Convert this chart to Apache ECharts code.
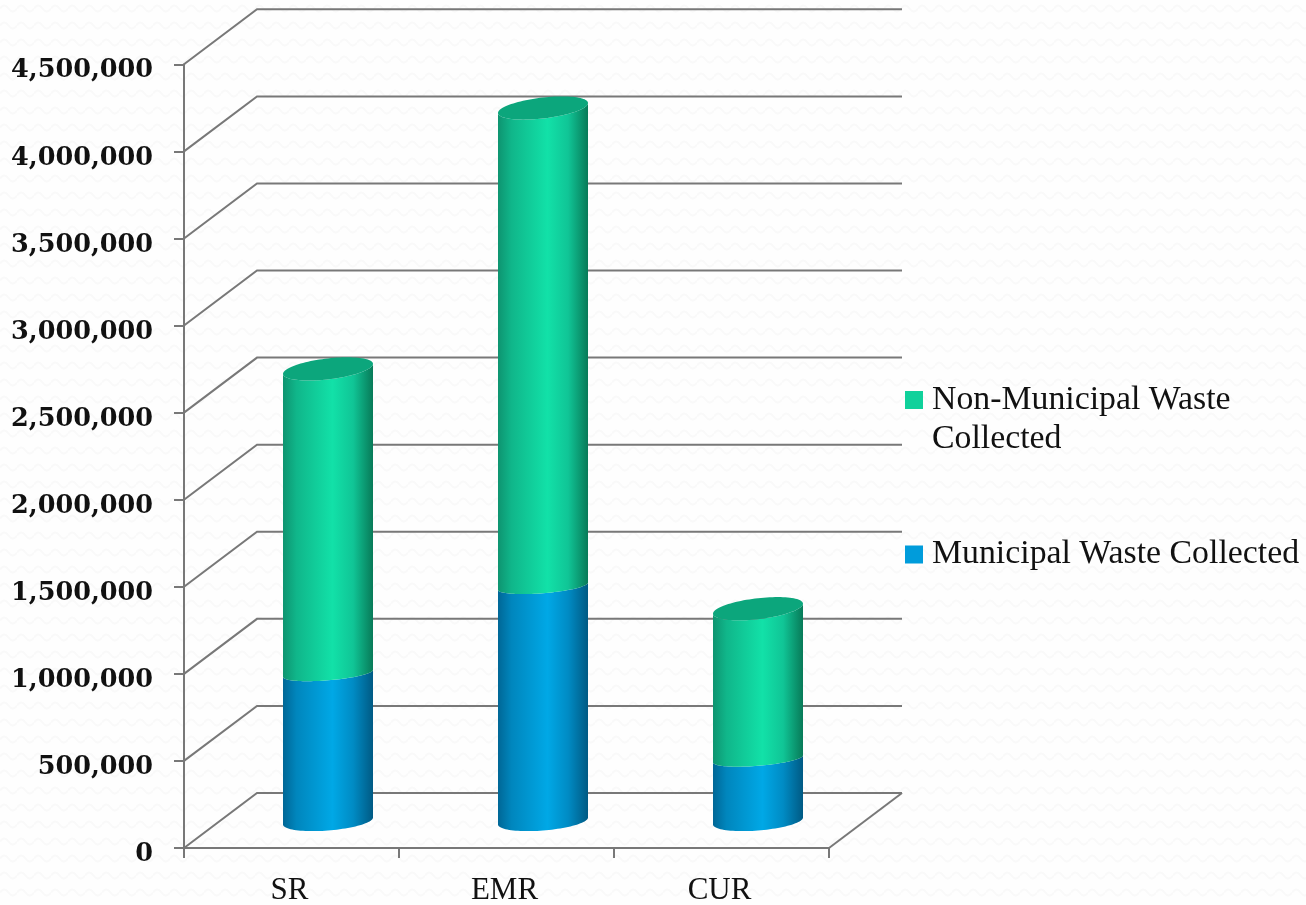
<!DOCTYPE html>
<html>
<head>
<meta charset="utf-8">
<style>html,body{margin:0;padding:0;background:#fff}#chart{width:1306px;height:905px}</style>
<script src="https://cdn.jsdelivr.net/npm/echarts@6/dist/echarts.min.js"></script>
</head>
<body>
<div id="chart"></div>
<script>
// Waste collected per region, tonnes
const categories = ['SR', 'EMR', 'CUR'];
const municipal = [848000, 1348000, 357000];
const nonMunicipal = [1748000, 2746000, 862000];
const yTicks = [0, 500000, 1000000, 1500000, 2000000, 2500000, 3000000, 3500000, 4000000, 4500000];
const municipalName = 'Municipal Waste Collected';
const nonMunicipalName = 'Non-Municipal Waste Collected';

// Depth of the pseudo-3D chart box, in pixels
const DEPTH_X = 73;
const DEPTH_Y = -55;
const CYL_HALF_WIDTH = 45;
const CYL_FLOOR_LIFT = 27;
const LINE = '#787878';

// Cross-section shapes: perspective makes the rim flatter at the seam than at the ends
const FOOT_RIM = { ry: 9.5, tilt: 3.5 };
const SEAM_RIM = { ry: 7, tilt: 3.6 };
const TOP_RIM = { ry: 10.5, tilt: 5 };

const GREEN = {
  side: ['#0e9470', '#10b68a', '#12e1a8', '#10c596', '#087a58'],
  cap: '#0ca67c',
  swatch: '#10d19b'
};
const BLUE = {
  side: ['#006796', '#0086bd', '#00a8e6', '#008bc4', '#005a84'],
  swatch: '#009cdb'
};

// Faint wave used as the slide background
function wavePattern() {
  const c = document.createElement('canvas');
  c.width = 17; c.height = 17;
  const g = c.getContext('2d');
  g.fillStyle = '#fefefe';
  g.fillRect(0, 0, 17, 17);
  g.strokeStyle = '#f9f9f9';
  g.lineWidth = 2;
  g.beginPath();
  g.moveTo(0, 8.5);
  g.quadraticCurveTo(4.25, 2.5, 8.5, 8.5);
  g.quadraticCurveTo(12.75, 14.5, 17, 8.5);
  g.stroke();
  return c;
}

// Outline point on a cylinder cross-section: t = 0 is the right side, t = PI the left
function rimPoint(cx, cy, rimShape, t) {
  return [
    cx + CYL_HALF_WIDTH * Math.cos(t),
    cy + rimShape.ry * Math.sin(t) - rimShape.tilt * Math.cos(t)
  ];
}

function frontArc(cx, cy, rimShape, reverse) {
  const pts = [];
  for (let i = 0; i <= 48; i++) {
    const k = reverse ? 48 - i : i;
    pts.push(rimPoint(cx, cy, rimShape, Math.PI * k / 48));
  }
  return pts;
}

function cylinderRenderer(palette, lowerRim, upperRim, withCap) {
  return function (params, api) {
    const idx = api.value(0);
    const cat = api.coord([idx, 0]);
    const cx = cat[0] + DEPTH_X / 2;
    const bottom = api.coord([idx, api.value(1)])[1] - CYL_FLOOR_LIFT;
    const top = api.coord([idx, api.value(2)])[1] - CYL_FLOOR_LIFT;
    const stops = [0, 0.15, 0.55, 0.78, 1].map((o, i) => ({ offset: o, color: palette.side[i] }));
    const children = [{
      type: 'polygon',
      shape: { points: frontArc(cx, bottom, lowerRim, false).concat(frontArc(cx, top, upperRim, true)) },
      style: { fill: { type: 'linear', x: 0, y: 0, x2: 1, y2: 0, colorStops: stops } }
    }];
    if (withCap) {
      const ring = [];
      for (let i = 0; i < 96; i++) ring.push(rimPoint(cx, top, upperRim, Math.PI * 2 * i / 96));
      children.push({ type: 'polygon', shape: { points: ring }, style: { fill: palette.cap } });
    }
    return { type: 'group', children };
  };
}

// Front-left edge, side wall and back wall for each value tick, plus the floor's right edge
function renderWall(params, api) {
  const sys = params.coordSys;
  const y = api.coord([0, api.value(0)])[1];
  const left = sys.x;
  const right = sys.x + sys.width;
  const children = [{
    type: 'polyline',
    shape: { points: [[left, y], [left + DEPTH_X, y + DEPTH_Y], [right + DEPTH_X, y + DEPTH_Y]] },
    style: { stroke: LINE, lineWidth: 2, fill: null }
  }];
  if (api.value(0) === 0) {
    children.push({
      type: 'line',
      shape: { x1: right, y1: y, x2: right + DEPTH_X, y2: y + DEPTH_Y },
      style: { stroke: LINE, lineWidth: 2 }
    });
  }
  return { type: 'group', children };
}

const barData = (base, height) => categories.map((_, i) => [i, base[i], base[i] + height[i]]);

// Square swatch with the label set a little further from it than the default
const legendCommon = {
  left: 905, orient: 'vertical', padding: 0, selectedMode: false,
  icon: 'path://M0 0H10V10H0Z', symbolKeepAspect: true,
  itemWidth: 26, itemHeight: 18, itemGap: 0,
  textStyle: { fontFamily: 'Liberation Serif', fontSize: 33.8, lineHeight: 39, color: '#111' }
};

const chart = echarts.init(document.getElementById('chart'), null, { renderer: 'canvas' });
chart.setOption({
  animation: false,
  backgroundColor: { image: wavePattern(), repeat: 'repeat' },
  grid: { left: 184, top: 64.3, width: 645, height: 783.7, outerBoundsMode: 'none' },
  legend: [Object.assign({}, legendCommon, {
    top: 341.5,
    data: [{ name: nonMunicipalName, itemStyle: { color: GREEN.swatch } }],
    // The blank first line keeps the swatch level with the first line of text
    formatter: () => ' \nNon-Municipal Waste\nCollected'
  }), Object.assign({}, legendCommon, {
    top: 535,
    data: [{ name: municipalName, itemStyle: { color: BLUE.swatch } }]
  })],
  xAxis: {
    type: 'category',
    data: categories,
    axisLine: { lineStyle: { color: LINE, width: 2 } },
    axisTick: { show: true, length: 10, lineStyle: { color: LINE, width: 2 } },
    axisLabel: { margin: 27, padding: [0, 4, 0, 0], fontFamily: 'Liberation Serif', fontSize: 31, color: '#111' }
  },
  yAxis: {
    type: 'value',
    min: 0,
    max: 4500000,
    interval: 500000,
    splitLine: { show: false },
    axisLine: { show: true, lineStyle: { color: LINE, width: 2 } },
    axisTick: { show: true, length: 10, lineStyle: { color: LINE, width: 2 } },
    axisLabel: {
      margin: 31, verticalAlign: 'top', lineHeight: 13,
      fontFamily: 'DejaVu Serif', fontWeight: 'bold', fontSize: 25.5, color: '#111'
    }
  },
  series: [{
    type: 'custom', name: 'Walls', silent: true, z: 1,
    coordinateSystem: 'cartesian2d',
    data: yTicks.map(v => [v]),
    encode: { y: 0 },
    renderItem: renderWall
  }, {
    type: 'custom', name: municipalName, z: 2,
    coordinateSystem: 'cartesian2d',
    data: barData(categories.map(() => 0), municipal),
    encode: { x: 0, y: 2 },
    itemStyle: { color: BLUE.swatch },
    renderItem: cylinderRenderer(BLUE, FOOT_RIM, SEAM_RIM, false)
  }, {
    type: 'custom', name: nonMunicipalName, z: 3,
    coordinateSystem: 'cartesian2d',
    data: barData(municipal, nonMunicipal),
    encode: { x: 0, y: 2 },
    itemStyle: { color: GREEN.swatch },
    renderItem: cylinderRenderer(GREEN, SEAM_RIM, TOP_RIM, true)
  }]
});
</script>
</body>
</html>
